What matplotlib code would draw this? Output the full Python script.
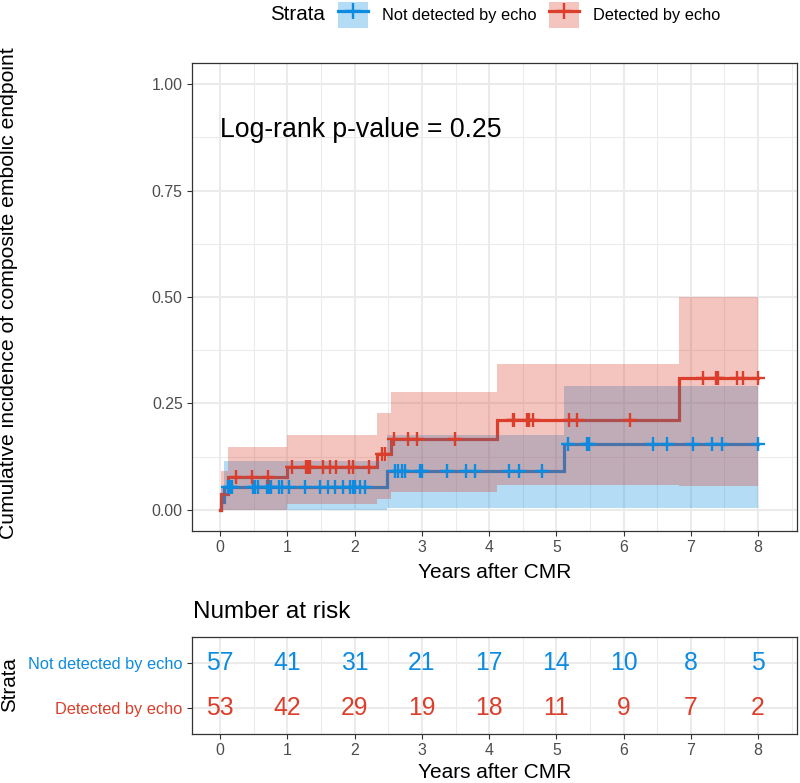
import numpy as np
import matplotlib
matplotlib.use('Agg')
import matplotlib.pyplot as plt
from matplotlib.patches import Patch
from matplotlib.lines import Line2D
from matplotlib.legend_handler import HandlerTuple
from matplotlib.ticker import MultipleLocator

plt.rcParams['font.family'] = ['Liberation Sans', 'DejaVu Sans']

BLUE = '#0C8BE0'
RED = '#DB3E2A'

groups = ['Not detected by echo', 'Detected by echo']
end_time = 8.0

# Not detected by echo: step function (time of change, value after)
nd_time = [0.0, 0.01, 0.05, 2.48, 5.12]
nd_inc = [0.0, 0.018, 0.054, 0.091, 0.155]
nd_upper = [0.0, 0.05, 0.115, 0.175, 0.29]
nd_lower = [0.0, 0.0, 0.0, 0.003, 0.003]
nd_censor = [0.12, 0.15, 0.18, 0.49, 0.52, 0.56, 0.70, 0.73, 0.75, 0.88, 0.92,
             1.02, 1.26, 1.48, 1.60, 1.71, 1.83, 1.93, 1.97, 2.01, 2.08, 2.16,
             2.60, 2.65, 2.70, 2.75, 2.97, 3.00, 3.37, 3.66, 3.79, 4.30, 4.44, 4.78,
             5.18, 5.45, 5.48, 6.44, 6.64, 7.03, 7.31, 7.46, 8.00]

# Detected by echo
d_time = [0.0, 0.01, 0.12, 0.99, 2.33, 2.54, 4.12, 6.83]
d_inc = [0.0, 0.038, 0.076, 0.10, 0.132, 0.167, 0.21, 0.31]
d_upper = [0.0, 0.09, 0.147, 0.175, 0.227, 0.276, 0.342, 0.50]
d_lower = [0.0, 0.0, 0.0, 0.014, 0.026, 0.041, 0.057, 0.055]
d_censor = [0.24, 0.47, 0.71, 1.07, 1.28, 1.30, 1.33, 1.53, 1.63, 1.72, 1.91, 1.97,
            2.22, 2.40, 2.45, 2.58, 2.80, 2.92, 3.49, 4.35, 4.37, 4.57, 4.59, 4.65,
            5.19, 5.30, 6.10, 7.18, 7.38, 7.41, 7.69, 7.78, 8.00]

risk_times = [0, 1, 2, 3, 4, 5, 6, 7, 8]
nd_risk = [57, 41, 31, 21, 17, 14, 10, 8, 5]
d_risk = [53, 42, 29, 19, 18, 11, 9, 7, 2]

pvalue_text = 'Log-rank p-value = 0.25'

W, H = 800, 783
fig = plt.figure(figsize=(W / 100, H / 100), dpi=100)

def fx(px):
    return px / W

def fy(py):
    return 1 - py / H

L, R = 192, 797
ax = fig.add_axes([fx(L), fy(531), fx(R - L), (531 - 63) / H])
axr = fig.add_axes([fx(L), fy(734), fx(R - L), (734 - 637) / H])

GRID = '#EBEBEB'
BORDER = '#333333'
TICKC = '#4D4D4D'

def style(a):
    for s in a.spines.values():
        s.set_color(BORDER)
        s.set_linewidth(0.9)
    a.tick_params(axis='both', which='major', length=3.5, width=0.8, color=BORDER,
                  labelcolor=TICKC, labelsize=11.4, pad=3.2)
    a.tick_params(axis='both', which='minor', length=0)
    a.set_axisbelow(True)
    a.grid(which='major', color=GRID, linewidth=1.5)
    a.grid(which='minor', color=GRID, linewidth=0.75)

def step_vals(times, vals, t):
    idx = np.searchsorted(np.asarray(times), np.asarray(t), side='right') - 1
    return np.asarray(vals)[idx]

series = [
    (nd_time, nd_inc, nd_upper, nd_lower, nd_censor, BLUE),
    (d_time, d_inc, d_upper, d_lower, d_censor, RED),
]

# lines first
for tm, inc, up, lo, cen, col in series:
    x = list(tm) + [end_time]
    y = list(inc) + [inc[-1]]
    ax.step(x, y, where='post', color=col, lw=2.3, zorder=2, solid_joinstyle='miter')
# ribbons over lines
for tm, inc, up, lo, cen, col in series:
    x = list(tm) + [end_time]
    u = list(up) + [up[-1]]
    l = list(lo) + [lo[-1]]
    ax.fill_between(x, l, u, step='post', color=col, alpha=0.3, lw=0, zorder=3)
# censor marks
for tm, inc, up, lo, cen, col in series:
    cy = step_vals(tm, inc, cen)
    ax.plot(cen, cy, ls='none', marker='+', ms=10.5, mew=1.7, color=col, zorder=4)

ax.set_xlim(-0.42, 8.58)
ax.set_ylim(-0.05, 1.05)
ax.set_xticks(range(0, 9))
ax.xaxis.set_minor_locator(MultipleLocator(0.5))
ax.set_yticks([0, 0.25, 0.5, 0.75, 1.0])
ax.set_yticklabels(['0.00', '0.25', '0.50', '0.75', '1.00'])
ax.yaxis.set_minor_locator(MultipleLocator(0.125))
style(ax)

ax.text(0, 0.893, pvalue_text, fontsize=19.2, ha='left', va='center', color='black')

# labels
fig.text(fx(9), fy(293), 'Cumulative incidence of composite embolic endpoint',
         rotation=90, ha='center', va='center', fontsize=15.2)
fig.text(fx(495), fy(572), 'Years after CMR', ha='center', va='center', fontsize=15)

# legend
fig.text(fx(270), fy(15), 'Strata', ha='left', va='center', fontsize=14.8)
handles = []
for col in (BLUE, RED):
    handles.append((Patch(facecolor=col, alpha=0.3, edgecolor='none'),
                    Line2D([], [], color=col, lw=2.3, marker='+', ms=12, mew=1.7)))
fig.legend(handles, groups, handler_map={tuple: HandlerTuple(ndivide=1, pad=0)},
           loc='center left', bbox_to_anchor=(fx(338), fy(15)), ncol=2, frameon=False,
           fontsize=11.8, borderpad=0, borderaxespad=0, handlelength=1.85,
           handleheight=2.1, handletextpad=0.85, columnspacing=0.75)

# risk table
rows = {2: (nd_risk, BLUE), 1: (d_risk, RED)}
for yv, (vals, col) in rows.items():
    for t, v in zip(risk_times, vals):
        axr.text(t, yv, str(v), ha='center', va='center', fontsize=17.8, color=col)
axr.set_xlim(-0.42, 8.58)
axr.set_ylim(0.4, 2.6)
axr.set_xticks(range(0, 9))
axr.xaxis.set_minor_locator(MultipleLocator(0.5))
axr.set_yticks([1, 2])
axr.set_yticklabels([groups[1], groups[0]])
style(axr)
axr.tick_params(axis='y', labelsize=11.8)
for lab, col in zip(axr.get_yticklabels(), [RED, BLUE]):
    lab.set_color(col)

fig.text(fx(193), fy(612), 'Number at risk', ha='left', va='center', fontsize=17.5)
fig.text(fx(495), fy(773), 'Years after CMR', ha='center', va='center', fontsize=15)
fig.text(fx(10), fy(685), 'Strata', rotation=90, ha='center', va='center', fontsize=14.8)

fig.savefig('out.png', dpi=100)
